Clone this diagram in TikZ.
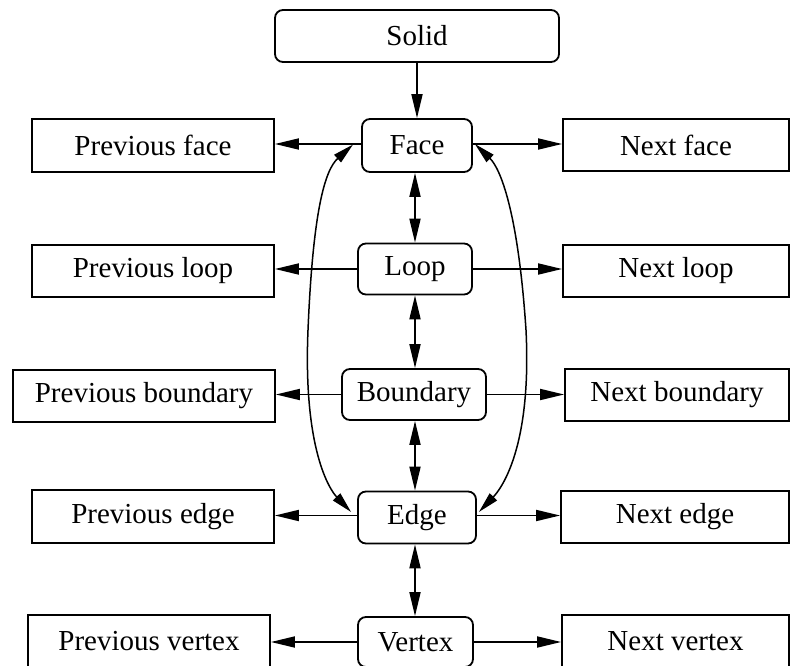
\documentclass[tikz,border=0pt]{standalone}
\usepackage{fontspec}
\setmainfont{Liberation Serif}
\usetikzlibrary{arrows.meta}
\begin{document}
\begin{tikzpicture}[x=1pt,y=-1pt,
  box/.style={draw, font=\fontsize{29}{34}\selectfont, inner sep=0pt, line width=1.8pt},
  mid/.style={box, rounded corners=8pt},
  side/.style={box},
  tip/.style={Triangle[length=24pt,width=11pt]},
  arr/.style={line width=1.8pt, -{Triangle[length=24pt,width=11pt]}},
  dbl/.style={line width=1.8pt, {Triangle[length=24pt,width=11pt]}-{Triangle[length=24pt,width=11pt]}},
  crv/.style={line width=1.5pt, {Triangle[length=21pt,width=10pt]}-{Triangle[length=21pt,width=10pt]}}]
\useasboundingbox (0,0) rectangle (790,666);
% centre column
\node[mid, minimum width=284pt, minimum height=52pt] (solid) at (417,36) {Solid};
\node[mid, minimum width=110pt, minimum height=53pt] (face) at (417,145.5) {Face};
\node[mid, minimum width=114pt, minimum height=51pt] (loop) at (415,269) {Loop};
\node[mid, minimum width=144pt, minimum height=51pt] (boundary) at (414,394.5) {Boundary};
\node[mid, minimum width=118pt, minimum height=52pt] (edge) at (417,517.5) {Edge};
\node[mid, minimum width=115pt, minimum height=50pt] (vertex) at (415.5,642) {Vertex};
% left column
\node[side, minimum width=242pt, minimum height=53pt] (pface) at (153,145.5) {Previous face};
\node[side, minimum width=242pt, minimum height=52pt] (ploop) at (153,271) {Previous loop};
\node[side, minimum width=262pt, minimum height=52pt] (pbound) at (144,396) {Previous boundary};
\node[side, minimum width=242pt, minimum height=53pt] (pedge) at (153,516.5) {Previous edge};
\node[side, minimum width=242pt, minimum height=52pt] (pvertex) at (149,641) {Previous vertex};
% right column
\node[side, minimum width=226pt, minimum height=52pt] (nface) at (676,145) {Next face};
\node[side, minimum width=226pt, minimum height=52pt] (nloop) at (676,271) {Next loop};
\node[side, minimum width=224pt, minimum height=52pt] (nbound) at (677,395) {Next boundary};
\node[side, minimum width=228pt, minimum height=52pt] (nedge) at (675,517) {Next edge};
\node[side, minimum width=227pt, minimum height=52pt] (nvertex) at (675.5,641) {Next vertex};
% vertical connectors
\draw[arr] (solid.south) -- (solid.south |- face.north);
\draw[dbl] (loop.north |- face.south) -- (loop.north);
\draw[dbl] (loop.south) -- (loop.south |- boundary.north);
\draw[dbl] (loop.south |- boundary.south) -- (loop.south |- edge.north);
\draw[dbl] (loop.south |- edge.south) -- (loop.south |- vertex.north);
% horizontal connectors
\draw[arr] ([yshift=1.5pt]face.west) -- ([yshift=1.5pt]face.west -| pface.east);
\draw[arr] ([yshift=1.5pt]face.east) -- ([yshift=1.5pt]face.east -| nface.west);
\draw[arr] (loop.west) -- (loop.west -| ploop.east);
\draw[arr] (loop.east) -- (loop.east -| nloop.west);
\draw[arr] (boundary.west) -- (boundary.west -| pbound.east);
\draw[arr] (boundary.east) -- (boundary.east -| nbound.west);
\draw[arr] ([yshift=2pt]edge.west) -- ([yshift=2pt]edge.west -| pedge.east);
\draw[arr] ([yshift=2pt]edge.east) -- ([yshift=2pt]edge.east -| nedge.west);
\draw[arr] (vertex.west) -- (vertex.west -| pvertex.east);
\draw[arr] (vertex.east) -- (vertex.east -| nvertex.west);
% curved connectors
\draw[crv] ([xshift=-8pt,yshift=1pt]face.west) .. controls (325,170) and (313,210) .. (308,330)
  .. controls (303,450) and (330,490) .. ([xshift=-6pt,yshift=5.5pt]edge.west);
\draw[crv] ([xshift=2pt,yshift=1.5pt]face.east) .. controls (500,168) and (518,210) .. (526,330)
  .. controls (532,450) and (500,490) .. ([xshift=2pt,yshift=5.5pt]edge.east);
\end{tikzpicture}
\end{document}
